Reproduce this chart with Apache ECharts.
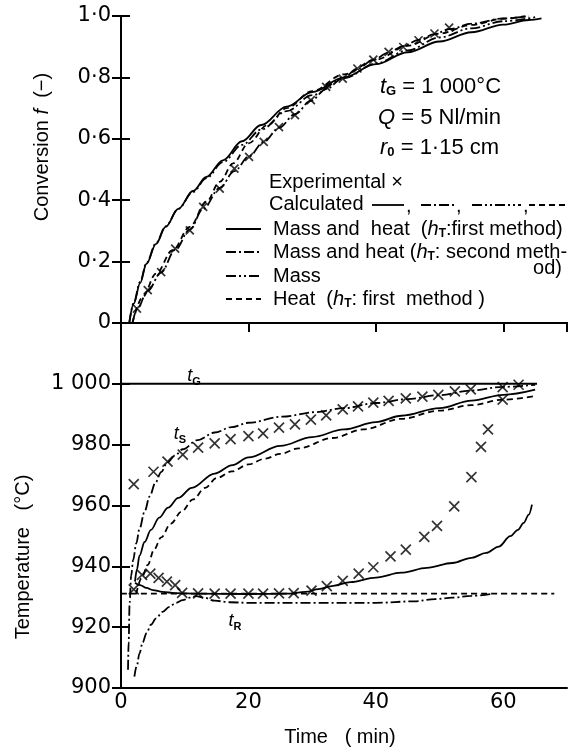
<!DOCTYPE html>
<html>
<head>
<meta charset="utf-8">
<script src="https://cdn.jsdelivr.net/npm/echarts@6/dist/echarts.min.js"></script>
<style>
  html, body { margin: 0; padding: 0; background: #fff; }
  #chart { width: 572px; height: 751px; }
</style>
</head>
<body>
<div id="chart"></div>
<script>
// ---- Conversion f versus time (min) ----
const convExperimental = [[2.5,0.047],[4.2,0.107],[6.3,0.166],[8.5,0.242],[10.8,0.302],[12.9,0.378],[15.5,0.438],[17.8,0.503],[20.1,0.541],[22.4,0.59],[24.8,0.638],[27.3,0.677],[29.8,0.726],[32.2,0.769],[34.8,0.796],[37.1,0.829],[39.6,0.858],[42,0.883],[44.3,0.899],[46.7,0.921],[49.2,0.943],[51.5,0.962]];
const convMassHeat1 = [[1.3,0],[2,0.063],[3,0.13],[4,0.193],[5.5,0.258],[7,0.313],[9,0.372],[11.3,0.43],[13.4,0.476],[16,0.53],[19,0.592],[22,0.645],[26,0.705],[30,0.752],[35,0.8],[40,0.843],[45,0.882],[50,0.917],[55,0.947],[60,0.972],[64,0.987],[66,0.992]];
const convMassHeat2 = [[1.8,0],[2.5,0.045],[4.2,0.105],[6.3,0.165],[8.5,0.238],[10.8,0.305],[12.9,0.372],[15.5,0.44],[17.8,0.495],[20.1,0.543],[22.4,0.59],[24.8,0.636],[27.3,0.68],[29.8,0.724],[32.2,0.762],[34.8,0.797],[37.1,0.828],[39.6,0.857],[42,0.881],[44.3,0.902],[46.7,0.922],[49.2,0.941],[51.5,0.957],[55,0.975],[60,0.992],[64,0.999]];
const convMass = [[1.3,0],[2,0.066],[3,0.134],[4,0.196],[5.5,0.26],[7,0.315],[9,0.372],[11.3,0.427],[13.4,0.472],[16,0.524],[19,0.58],[22,0.63],[26,0.69],[30,0.742],[35,0.797],[40,0.845],[45,0.888],[50,0.93],[55,0.96],[60,0.983],[65,0.996]];
const convHeat = [[1.8,0],[3.4,0.085],[5.5,0.161],[8.1,0.237],[10.8,0.313],[13.4,0.395],[15.5,0.46],[17.6,0.52],[20,0.585],[23,0.645],[26,0.7],[30,0.755],[35,0.81],[40,0.858],[45,0.903],[50,0.943],[55,0.971],[60,0.991],[63.5,1.0]];

// ---- Temperatures (°C) versus time (min) ----
const gasTemp = [[0,1000],[65.3,1000]];
const surfExperimental = [[2,967],[5.1,971.1],[7.3,974.4],[9.7,976.7],[12.1,979],[14.7,980.4],[17.2,981.8],[20,982.8],[22.3,983.7],[24.8,985.6],[27.3,986.7],[29.8,988.2],[32.2,989.6],[34.8,991.6],[37.2,992.6],[39.6,993.8],[42,994.4],[44.7,995.2],[47.3,995.8],[49.8,996.4],[52.4,997.5],[54.9,998.2],[59.9,994.8],[59.9,998.9],[62.4,999.7]];
const coreExperimental = [[2,932.4],[3.3,937.2],[4.6,937.6],[5.9,936.2],[7.2,935],[8.5,933.8],[9.6,931.3],[12.1,931.1],[14.7,931],[17.2,931],[20,931],[22.3,931],[24.8,931.1],[27.1,931.2],[29.9,932],[32.3,933.5],[34.8,935.2],[37.3,937.6],[39.6,939.7],[42.3,943.3],[44.7,945.5],[47.6,949.7],[49.6,953.3],[52.3,959.7],[55,969.3],[56.5,979.3],[57.6,985]];
const surfMassHeat1 = [[2.2,935],[2.5,939],[2.9,943.5],[3.7,948],[4.7,952],[6,956],[7.4,959.3],[9,962.5],[11.1,965.8],[14.7,970.5],[17.5,973.3],[20,975.8],[25,979.6],[30,982.5],[35,985],[40,987.4],[44,989.5],[50,992],[55,994.5],[60,996.4],[65,998.1]];
const surfMassHeat2 = [[1.1,906],[1.2,915],[1.35,928],[1.6,937],[1.9,942],[2.4,947.5],[2.9,952.3],[3.7,958],[4.5,963],[5.4,967.5],[6.3,971],[7.3,974.2],[8.5,976.5],[9.7,978.5],[12,981.5],[14.7,984],[17.4,985.8],[20,987.2],[25.3,989.2],[30.5,990.7],[35,992],[40,993.7],[45,995],[50,996.3],[55,997.8],[60,999],[65,999.7]];
const surfHeat = [[2.4,931],[3.2,936],[4.2,940.5],[5.2,945.5],[6.3,949.5],[7.8,954],[9.5,958],[11.3,962],[13.2,965.8],[15,969],[17.4,971.2],[20,973.5],[22.6,975.4],[25,977],[27.9,978.8],[33.2,982.2],[38,985],[44,988.5],[50,991.2],[55,993],[60,994.8],[65,996]];
const coreMassHeat1 = [[2.2,934.6],[3,933.8],[4,932.9],[5,932.2],[6.5,931.6],[8.5,931.2],[12,931],[20,930.9],[26,931],[29,931.6],[31,932.5],[33.3,933.6],[36,934.8],[40,936.3],[44,937.9],[48,939.5],[52,941.1],[55,942.8],[57.3,944.4],[59.3,946.5],[61.1,949.9],[62.3,952],[63.2,954.3],[64,957],[64.5,960.3]];
const coreMassHeat2 = [[2.1,903.7],[2.5,907.5],[2.9,911.4],[3.4,915],[4,918],[4.7,920.8],[5.5,922.9],[6.5,925],[7.6,926.7],[8.6,928],[9.7,928.9],[10.8,929.7],[11.8,930.2],[13,929.7],[14.7,928.7],[17,928.2],[20,928],[30,928],[40,928],[46,928.5],[49.3,929.2],[52,929.7],[55,930.3],[58.4,931]];
const coreHeat = [[0,931],[68,931]];

// ---- Tick labels ----
const timeTicks = [0, 20, 40, 60];
const timeTickLabels = ['0', '20', '40', '60'];
const convTickLabels = ['0', '0·2', '0·4', '0·6', '0·8', '1·0'];
const tempTicks = [900, 920, 940, 960, 980, 1000];
const tempTickLabels = ['900', '920', '940', '960', '980', '1 000'];

const FONT = 'Liberation Sans';
const NUM_FONT = 'DejaVu Sans';
const INK = '#000';

// line dash patterns for the four calculated cases
const DASH = {
  solid: 'solid',
  dashDot: [10, 3, 2, 3],
  dashDotDot: [10, 3, 2, 3, 2, 3],
  dashed: [6, 4]
};

function curve(name, data, dash, gi, width) {
  return {
    name, type: 'line', data,
    xAxisIndex: gi * 2, yAxisIndex: gi * 2,
    showSymbol: false, smooth: 0.35, smoothMonotone: 'x',
    lineStyle: { color: INK, width: width || 1.8, type: dash },
    silent: true, z: 3
  };
}
function crosses(name, data, gi, size) {
  return {
    name, type: 'scatter', data,
    xAxisIndex: gi * 2, yAxisIndex: gi * 2,
    symbol: 'path://M0,0L10,10M10,0L0,10', symbolSize: size,
    itemStyle: { color: 'rgba(0,0,0,0)', borderColor: INK, borderWidth: 1.7 },
    silent: true, z: 4
  };
}

const axisLine = { show: true, lineStyle: { color: INK, width: 2 } };
const innerTick = { show: true, inside: true, length: 9, lineStyle: { color: INK, width: 2 } };

function xAx(gi, pos, extra) {
  return Object.assign({
    type: 'value', gridIndex: gi, position: pos, min: 0, max: 70, interval: 20,
    axisLine, axisTick: { show: false }, axisLabel: { show: false }, splitLine: { show: false }
  }, extra || {});
}
function yAx(gi, pos, min, max, interval, extra) {
  return Object.assign({
    type: 'value', gridIndex: gi, position: pos, min, max, interval,
    axisLine, axisTick: innerTick, axisLabel: { show: false }, splitLine: { show: false }
  }, extra || {});
}

const tickLabel = { color: INK, fontFamily: NUM_FONT, fontSize: 21 };

const option = {
  animation: false,
  backgroundColor: '#fff',
  grid: [
    { left: 121, top: 16, width: 446, height: 307 },
    { left: 121, top: 323, width: 446, height: 365 }
  ],
  xAxis: [
    xAx(0, 'bottom'),
    xAx(0, 'top', { axisTick: innerTick }),
    xAx(1, 'bottom', {
      axisLabel: Object.assign({ show: true, margin: 4, showMaxLabel: false,
        formatter: v => { const i = timeTicks.indexOf(v); return i < 0 ? '' : timeTickLabels[i]; } }, tickLabel)
    }),
    xAx(1, 'top', { axisTick: innerTick })
  ],
  yAxis: [
    yAx(0, 'left', 0, 1, 0.2, {
      axisLabel: Object.assign({ show: true, margin: 10,
        formatter: v => convTickLabels[Math.round(v * 5)] || '' }, tickLabel)
    }),
    yAx(0, 'right', 0, 1, 0.2),
    yAx(1, 'left', 900, 1020, 20, {
      axisLabel: Object.assign({ show: true, margin: 10,
        formatter: v => { const i = tempTicks.indexOf(Math.round(v)); return i < 0 ? '' : tempTickLabels[i]; } }, tickLabel)
    }),
    yAx(1, 'right', 900, 1020, 20)
  ],
  series: [
    // conversion panel
    curve('Mass and heat (first method)', convMassHeat1, DASH.solid, 0),
    curve('Mass and heat (second method)', convMassHeat2, DASH.dashDot, 0),
    curve('Mass', convMass, DASH.dashDotDot, 0),
    curve('Heat (first method)', convHeat, DASH.dashed, 0),
    crosses('Experimental', convExperimental, 0, 8),
    // temperature panel
    curve('Gas', gasTemp, DASH.solid, 1, 2),
    curve('Surface, mass and heat (first method)', surfMassHeat1, DASH.solid, 1),
    curve('Surface, mass and heat (second method)', surfMassHeat2, DASH.dashDot, 1),
    curve('Surface, heat (first method)', surfHeat, DASH.dashed, 1),
    curve('Reaction front, mass and heat (first method)', coreMassHeat1, DASH.solid, 1),
    curve('Reaction front, mass and heat (second method)', coreMassHeat2, DASH.dashDot, 1),
    curve('Reaction front, heat (first method)', coreHeat, DASH.dashed, 1),
    crosses('Surface, experimental', surfExperimental, 1, 10),
    crosses('Reaction front, experimental', coreExperimental, 1, 10)
  ]
};

// ---- text, legend keys and axis titles ----
const TXT = 20;
function richSet(size) {
  return {
    n: { fontFamily: FONT, fontSize: size, lineHeight: 22, color: INK },
    i: { fontFamily: FONT, fontSize: size, fontStyle: 'italic', lineHeight: 22, color: INK },
    s: { fontFamily: FONT, fontSize: Math.round(size * 0.6), lineHeight: 10, verticalAlign: 'bottom', color: INK, fontWeight: 'bold' }
  };
}
function txt(x, y, text, opts) {
  opts = opts || {};
  const size = opts.size || TXT;
  return {
    type: 'text', x, y, rotation: opts.rotation || 0, silent: true, z: 10,
    style: {
      text, rich: richSet(size), fontFamily: FONT, fontSize: size, fill: INK,
      align: opts.align || 'left', verticalAlign: 'middle'
    }
  };
}
function key(x1, x2, y, dash) {
  return {
    type: 'line', silent: true, z: 10,
    shape: { x1, y1: y, x2, y2: y },
    style: { stroke: INK, lineWidth: 1.8, lineDash: dash === 'solid' ? null : dash }
  };
}

option.graphic = [
  // conditions
  txt(380, 87, '{i|t}{s|G}{n| = 1 000°C}', { size: 22 }),
  txt(378, 118, '{i|Q}{n| = 5 Nl/min}', { size: 22 }),
  txt(380, 148, '{i|r}{s|0}{n| = 1·15 cm}', { size: 22 }),
  // legend
  txt(269, 182, '{n|Experimental ×}'),
  txt(269, 204, '{n|Calculated}'),
  key(372, 404, 205, 'solid'), txt(406, 206, '{n|,}'),
  key(421, 454, 205, DASH.dashDot), txt(456, 206, '{n|,}'),
  key(472, 521, 205, DASH.dashDotDot), txt(523, 206, '{n|,}'),
  key(529, 566, 205, DASH.dashed),
  key(226, 261, 229, 'solid'),
  txt(273, 229, '{n|Mass and  heat  (}{i|h}{s|T}{n|:first method)}'),
  key(226, 261, 252, DASH.dashDot),
  txt(273, 252, '{n|Mass and heat (}{i|h}{s|T}{n|: second meth-}'),
  txt(562, 268, '{n|od)}', { align: 'right' }),
  key(226, 261, 276, DASH.dashDotDot),
  txt(273, 276, '{n|Mass}'),
  key(226, 261, 299, DASH.dashed),
  txt(273, 299, '{n|Heat  (}{i|h}{s|T}{n|: first  method )}'),
  // curve labels
  txt(194, 376, '{i|t}{s|G}', { align: 'center', size: 18 }),
  txt(180, 434, '{i|t}{s|S}', { align: 'center', size: 18 }),
  txt(235, 621, '{i|t}{s|R}', { align: 'center', size: 18 }),
  // axis titles
  txt(42, 147, '{n|Conversion }{i|f}{n|  (−)}', { align: 'center', rotation: Math.PI / 2 }),
  txt(23, 557, '{n|Temperature   (°C)}', { align: 'center', rotation: Math.PI / 2 }),
  txt(340, 737, '{n|Time   ( min)}', { align: 'center' })
];

const chart = echarts.init(document.getElementById('chart'), null, { renderer: 'canvas' });
chart.setOption(option);
</script>
</body>
</html>
